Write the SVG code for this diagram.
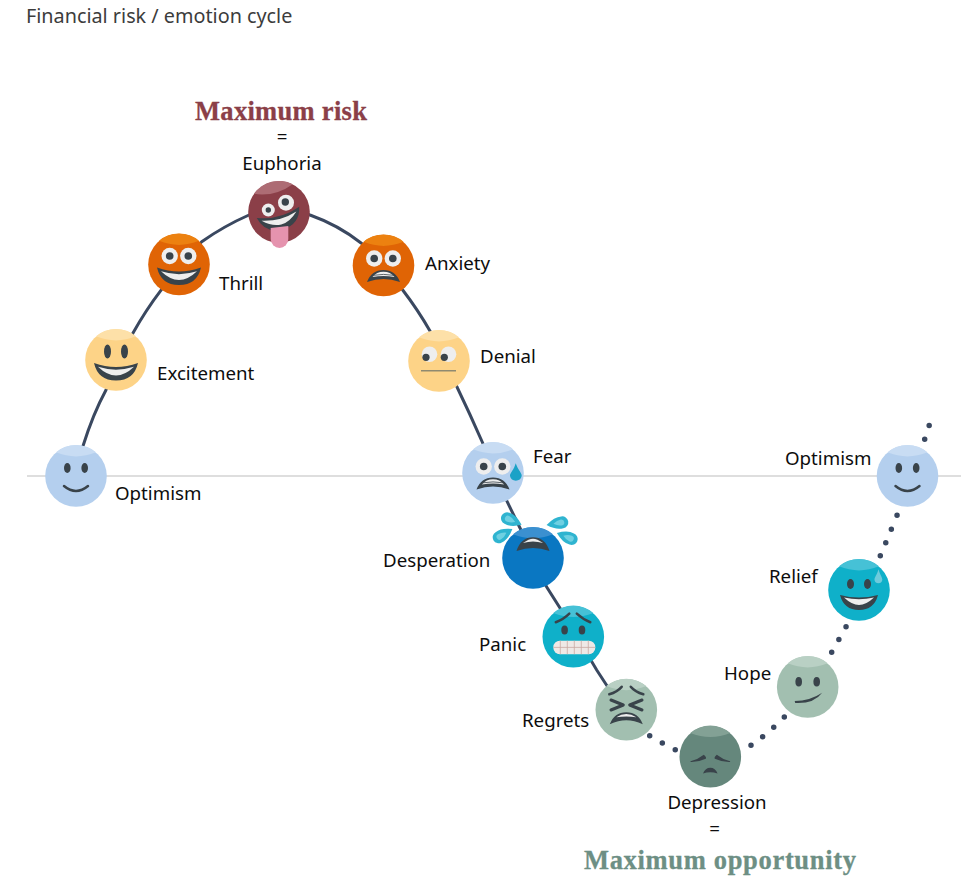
<svg xmlns="http://www.w3.org/2000/svg" width="976" height="886" viewBox="0 0 976 886">
<style>
text{font-family:"Noto Sans","Open Sans",sans-serif;font-size:18.700px;fill:#0d0d0d}
.title{fill:#3c3c3c;font-size:19.800px}
.mid{text-anchor:middle}
.hd{font-family:"Liberation Serif",serif;font-weight:700;font-size:26.500px;text-anchor:middle;stroke-width:0.300px}
.risk{fill:#8b3f48;stroke:#8b3f48}.opp{fill:#6d8f84;stroke:#6d8f84}
.conn{fill:none;stroke:#3a4860;stroke-width:3;stroke-linecap:round}
.dots{fill:none;stroke:#3a4860;stroke-width:5.500;stroke-linecap:round;stroke-dasharray:0 14.600}
.axis{stroke:#dedede;stroke-width:2;fill:none}
.dark{fill:#39434a}
.line{fill:none;stroke:#39434a;stroke-width:2.500;stroke-linecap:round}
.x{fill:none;stroke:#39434a;stroke-width:3;stroke-linecap:round;stroke-linejoin:round}
.white{fill:#eeeeee}
.blue{fill:#b4cfee}.bluehl{fill:#c8dcf3}
.yellow{fill:#fdd387}.yellowhl{fill:#fde0a8}
.orange{fill:#e06405}.orangehl{fill:#ec8110}
.maroon{fill:#8b3f48}.maroonhl{fill:#ad6c74}
.deep{fill:#0a77c2}.deephl{fill:#3b90d0}
.teal{fill:#0fb0c9}.tealhl{fill:#46c1d6}
.sage{fill:#a2bfb0}.sagehl{fill:#b9d0c4}
.moss{fill:#65877c}.mosshl{fill:#83a195}
.tear{fill:#2fb4d0}.tearin{fill:#6fd0e2}
</style>
<defs>
<circle id="disc" r="30.800"/>
<path id="hl" d="M-20,-23.700 A30.800,30.800 0 0 1 20,-23.700 Q0,-15.500 -20,-23.700Z"/>
<g id="eye-oval"><ellipse cx="-8.700" cy="-8" rx="3.300" ry="5" class="dark"/><ellipse cx="8.700" cy="-8" rx="3.300" ry="5" class="dark"/></g>
<g id="eyes-wide"><circle cx="-9.300" cy="-7" r="8.200" class="white"/><circle cx="9.300" cy="-7" r="8.200" class="white"/><circle cx="-9.300" cy="-7" r="3.800" class="dark"/><circle cx="9.300" cy="-7" r="3.800" class="dark"/></g>
<g id="grin"><path class="dark" d="M-22,3 Q0,11 22,3 Q18,20.500 0,20.500 Q-18,20.500 -22,3Z"/><path class="white" d="M-18,6.800 Q0,12.500 18,6.800 Q9,15.500 0,15.500 Q-9,15.500 -18,6.800Z"/></g>
<g id="fright"><path class="dark" d="M-16.500,16.500 Q-12,4.500 0,4.500 Q12,4.500 16.500,16.500 Q8,13.500 0,13.500 Q-8,13.500 -16.500,16.500Z"/><path class="white" d="M-11,11.500 Q-7,6.200 0,6.200 Q7,6.200 11,11.500 Q0,9.500 -11,11.500Z"/><path d="M-10,9.800 Q0,8 10,9.800" fill="none" stroke="#39434a" stroke-width="0.800"/></g>
<g id="tear"><path class="tear" d="M16,0 Q7,-7 0,-6 A6,6 0 0 0 0,6 Q7,7 16,0Z"/><path class="tearin" d="M9,0 Q5,-3 1,-3 A3,3 0 0 0 1,3 Q5,3 9,0Z"/></g>
</defs>
<rect width="976" height="886" fill="#fff"/>
<text x="26" y="23" class="title">Financial risk / emotion cycle</text>
<path class="axis" d="M27,476 H961"/>
<g id="connectors">
<path class="conn" d="M83,446 Q93,414 106,390 Q118,362 133,333 Q146,310 160.700,290.700 Q180,263 201.700,241.700 Q224,226 249,215 Q279,203 310,215 Q338,225 360.700,242.700 Q384,262 402.700,290 Q418,310 430,331 Q445,358 457,387 Q470,414 482.700,443 L506.700,500.700 L520,528 L546.700,587 L560,608 L596.700,670 L613,695"/>
<path class="dots" d="M649.700,735.700 Q663,743.500 677,750.700"/>
<path class="dots" d="M751,745.300 Q769,733 786,715.300"/>
<path class="dots" d="M831.700,652.300 L846.700,625.700"/>
<path class="dots" d="M880.300,555.700 Q889,535 898.300,512.300"/>
<path class="dots" d="M924.700,439.300 L929.300,425"/>
</g>
<g id="optimism-start" transform="translate(76,476)"><use href="#disc" class="blue"/><use href="#hl" class="bluehl"/><use href="#eye-oval"/><path class="line" d="M-12,10 Q0,20 12,10"/></g>
<g id="excitement" transform="translate(116,360)"><use href="#disc" class="yellow"/><use href="#hl" class="yellowhl"/><ellipse cx="-8.500" cy="-8.500" rx="3.500" ry="7" class="dark"/><ellipse cx="8.500" cy="-8.500" rx="3.500" ry="7" class="dark"/><use href="#grin"/></g>
<g id="thrill" transform="translate(179,264.500)"><use href="#disc" class="orange"/><use href="#hl" class="orangehl"/><use href="#eyes-wide" y="-1.500"/><use href="#grin"/></g>
<g id="euphoria" transform="translate(279,212)"><use href="#disc" class="maroon"/><use href="#hl" class="maroonhl" transform="rotate(-14)"/><circle cx="-10.700" cy="-2" r="6.500" class="white"/><circle cx="-10.700" cy="-2" r="2.700" class="dark"/><circle cx="7" cy="-9.300" r="8" class="white"/><circle cx="6.300" cy="-10" r="3.700" class="dark"/><g transform="rotate(-15 1 4)"><use href="#grin" y="-3"/></g><path d="M-8.300,16 L9.300,14 V27 A8.800,9 0 0 1 -8.300,27Z" fill="#e593ae"/></g>
<g id="anxiety" transform="translate(383.500,265.500)"><use href="#disc" class="orange"/><use href="#hl" class="orangehl"/><use href="#eyes-wide"/><use href="#fright"/></g>
<g id="denial" transform="translate(439,361)"><use href="#disc" class="yellow"/><use href="#hl" class="yellowhl"/><circle cx="-9.500" cy="-6.700" r="7.800" class="white"/><circle cx="9.500" cy="-6.700" r="7.800" class="white"/><circle cx="-13" cy="-3.700" r="3.600" class="dark"/><circle cx="5.300" cy="-3.700" r="3.600" class="dark"/><path d="M-18,9.700 H17" stroke="#8f8a70" stroke-width="1.600" fill="none"/></g>
<g id="fear" transform="translate(493,473)"><use href="#disc" class="blue"/><use href="#hl" class="bluehl"/><use href="#eyes-wide" y="0.500"/><use href="#fright"/><path d="M22.700,-9.700 C25,-3 29,0 28.700,3 A6,6 0 0 1 17,3 C16.700,0 21,-3 22.700,-9.700Z" fill="#1ba2c7"/></g>
<g id="desperation" transform="translate(533,558)"><use href="#tear" transform="translate(-26,-39.700) rotate(24)"/><use href="#tear" transform="translate(-34.300,-20.700) rotate(-31)"/><use href="#tear" transform="translate(29.300,-35.700) rotate(170)"/><use href="#tear" transform="translate(38.700,-19) rotate(202)"/><use href="#disc" class="deep"/><use href="#hl" class="deephl"/><path class="dark" d="M-16.500,-7 Q-12,-20.700 0,-20.700 Q12,-20.700 16.500,-7 Q8,-10 0,-10 Q-8,-10 -16.500,-7Z"/><path class="white" d="M-10,-15 Q-4,-19.300 0,-19.300 Q4,-19.300 10,-15 Q0,-18 -10,-15Z"/></g>
<g id="panic" transform="translate(573.300,636.700)"><use href="#disc" class="teal"/><use href="#hl" class="tealhl"/><ellipse cx="-8.700" cy="-6.700" rx="3.300" ry="4.500" class="dark"/><ellipse cx="8.700" cy="-6.700" rx="3.300" ry="4.500" class="dark"/><path class="line" d="M-17.500,-14.500 Q-10,-17 -4,-23"/><path class="line" d="M3.500,-23 Q10,-17 17,-14.500"/><rect x="-20" y="4" width="42" height="13.500" rx="6.500" fill="#efe9e6"/><path d="M-13,4 V17.500 M-6,4 V17.500 M1,4 V17.500 M8,4 V17.500 M15,4 V17.500 M-20,10.700 H22" stroke="#c9aaa2" stroke-width="0.800" fill="none"/></g>
<g id="regrets" transform="translate(626.300,709.800)"><use href="#disc" class="sage"/><use href="#hl" class="sagehl"/><path class="x" d="M-15.300,-9.800 L-3,-4.800 L-15.300,0.200"/><path class="x" d="M15.700,-9.800 L3.400,-4.800 L15.700,0.200"/><path class="line" d="M-17,-15.500 Q-9,-18 -4.600,-23"/><path class="line" d="M4.500,-23 Q9,-18 17,-15.500"/><path class="dark" d="M-16.500,14.500 Q-12,2.500 0,2.500 Q12,2.500 16.500,14.500 Q8,10.500 0,10.500 Q-8,10.500 -16.500,14.500Z"/><path class="white" d="M-10,7.500 Q-5,4.200 0,4.200 Q5,4.200 10,7.500 Q0,5.800 -10,7.500Z"/></g>
<g id="depression" transform="translate(710.300,756.700)"><use href="#disc" class="moss"/><use href="#hl" class="mosshl"/><path class="dark" d="M-19.800,4.500 Q-12,2.500 -6.500,-2 Q-3.500,0.500 -4.500,2 Q-12,5.500 -19.800,5.200Z"/><path class="dark" d="M6.500,-2 Q12,2.500 19.800,4.500 L19.800,5.200 Q12,5.500 4.500,2 Q3.500,0.500 6.500,-2Z"/><path class="dark" d="M-7.300,16.800 Q-5,11 0,11 Q5,11 7.300,16.800 Q0,14.500 -7.300,16.800Z"/></g>
<g id="hope" transform="translate(807.700,687)"><use href="#disc" class="sage"/><use href="#hl" class="sagehl"/><ellipse cx="-9" cy="-5.300" rx="3.300" ry="4.700" class="dark"/><ellipse cx="9" cy="-5.300" rx="3.300" ry="4.700" class="dark"/><path class="dark" d="M-13,14 Q2,14 14.500,5.700 Q6,17 -12.500,16Z"/></g>
<g id="relief" transform="translate(859,590)"><use href="#disc" class="teal"/><use href="#hl" class="tealhl"/><ellipse cx="-8.500" cy="-6" rx="3.500" ry="5" class="dark"/><ellipse cx="8.500" cy="-6" rx="3.500" ry="5" class="dark"/><path class="dark" d="M-19,5 Q0,10 19,5 Q15,20 0,20 Q-15,20 -19,5Z"/><path class="white" d="M-15,7.500 Q0,11 15,7.500 Q7,15 0,15 Q-7,15 -15,7.500Z"/><path d="M19.500,-20.700 C21,-15 23.500,-12.500 23.300,-10 A4,4.200 0 0 1 15.500,-10 C15.300,-12.500 18,-15 19.500,-20.700Z" fill="#6fcbdc"/></g>
<g id="optimism-end" transform="translate(907.500,476)"><use href="#disc" class="blue"/><use href="#hl" class="bluehl"/><use href="#eye-oval"/><path class="line" d="M-12,10 Q0,20 12,10"/></g>
<g id="labels">
<text x="281" y="120" class="hd risk" textLength="172">Maximum risk</text>
<text x="282" y="143" class="mid">=</text>
<text x="282" y="170" class="mid">Euphoria</text>
<text x="115" y="500">Optimism</text>
<text x="157" y="380">Excitement</text>
<text x="219" y="290">Thrill</text>
<text x="425" y="270">Anxiety</text>
<text x="480" y="363">Denial</text>
<text x="533" y="463">Fear</text>
<text x="383" y="567">Desperation</text>
<text x="479" y="651">Panic</text>
<text x="522" y="727">Regrets</text>
<text x="717" y="809" class="mid">Depression</text>
<text x="714.500" y="835" class="mid">=</text>
<text x="720" y="869" class="hd opp" textLength="272">Maximum opportunity</text>
<text x="724" y="680">Hope</text>
<text x="769" y="583">Relief</text>
<text x="785" y="465">Optimism</text>
</g>
</svg>
